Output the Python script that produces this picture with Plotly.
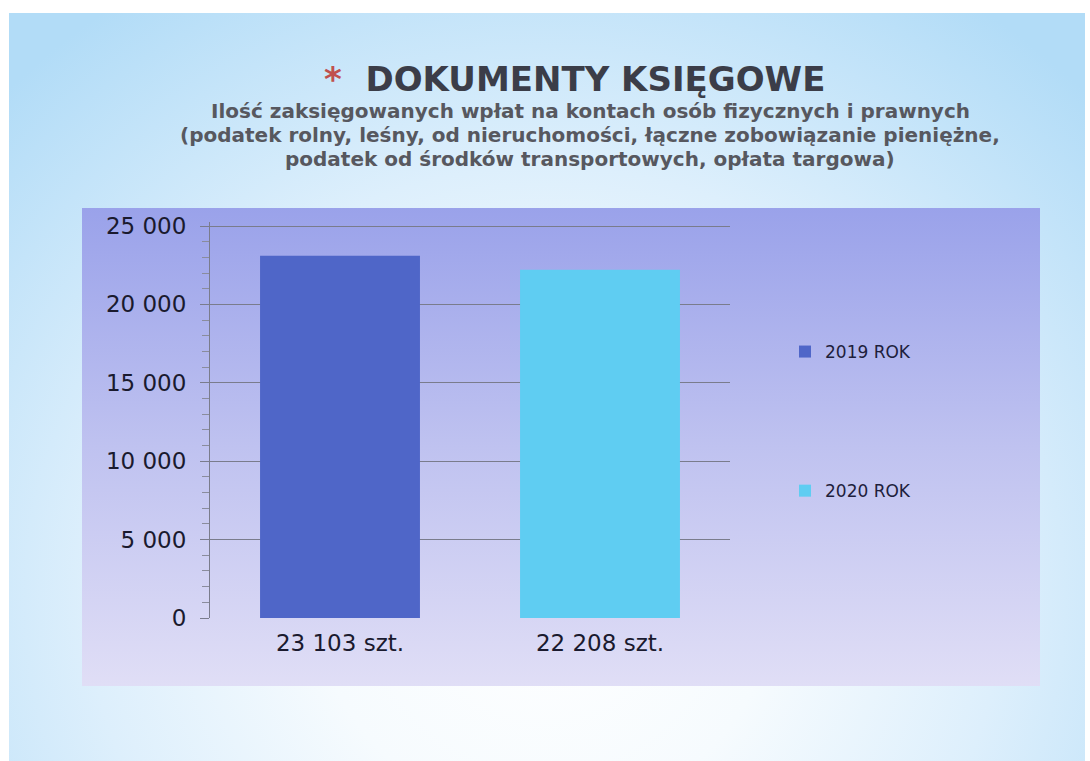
import base64
import plotly.graph_objects as go

# ---- data ----
categories = ["23 103 szt.", "22 208 szt."]
series_names = ["2019 ROK", "2020 ROK"]
values = [23103, 22208]
tick_values = [0, 5000, 10000, 15000, 20000, 25000]
tick_labels = ["0", "5 000", "10 000", "15 000", "20 000", "25 000"]
title_text = "DOKUMENTY KSIĘGOWE"
subtitle_lines = [
    "Ilość zaksięgowanych wpłat na kontach osób fizycznych i prawnych",
    "(podatek rolny, leśny, od nieruchomości, łączne zobowiązanie pieniężne,",
    "podatek od środków transportowych, opłata targowa)",
]
colors = ["#4f66c8", "#5fcdf2"]

W, H = 1090, 761
L, R, T, B = 210, 360, 222, 143
pw, ph = W - L - R, H - T - B
y_top = 25000 * ph / (618 - 226)  # keep 25 000 at the same pixel height as reference

svg = f"""<svg xmlns='http://www.w3.org/2000/svg' width='{W}' height='{H}' viewBox='0 0 {W} {H}' preserveAspectRatio='none'>
<defs>
<radialGradient id='g' cx='545' cy='600' r='760' gradientUnits='userSpaceOnUse' gradientTransform='translate(545 600) scale(1 0.95) translate(-545 -600)'>
<stop offset='0' stop-color='#ffffff'/>
<stop offset='0.3' stop-color='#f6fbfe'/>
<stop offset='0.6' stop-color='#ddeffc'/>
<stop offset='1' stop-color='#b2dcf7'/>
</radialGradient>
<linearGradient id='p' x1='0' y1='0' x2='0' y2='1'>
<stop offset='0' stop-color='#9aa2ea'/>
<stop offset='0.5' stop-color='#bfc2f0'/>
<stop offset='1' stop-color='#e0def6'/>
</linearGradient>
</defs>
<rect x='0' y='0' width='{W}' height='{H}' fill='#ffffff'/>
<rect x='9' y='13' width='{W-14}' height='{H-13}' fill='url(#g)'/>
<rect x='82' y='208' width='958' height='478' fill='url(#p)'/>
</svg>"""
src = "data:image/svg+xml;base64," + base64.b64encode(svg.encode("utf-8")).decode()

fig = go.Figure()
for name, cat, val, col in zip(series_names, categories, values, colors):
    fig.add_trace(go.Bar(
        x=[cat], y=[val], name=name, marker=dict(color=col, line=dict(width=0)),
        width=0.615, legendgroup=name,
    ))

font_main = "DejaVu Sans"


def py(pix):
    return (H - B - pix) / ph


fig.update_layout(
    width=W, height=H,
    margin=dict(l=L, r=R, t=T, b=B),
    paper_bgcolor="white",
    plot_bgcolor="rgba(0,0,0,0)",
    barmode="overlay",
    showlegend=True,
    legend=dict(
        x=(785 - L) / pw, y=py(334), xanchor="left", yanchor="top",
        bgcolor="rgba(0,0,0,0)", font=dict(family=font_main, size=17, color="#1e1e3c"),
        tracegroupgap=114, itemwidth=30, traceorder="grouped",
    ),
    images=[dict(
        source=src, xref="paper", yref="paper",
        x=-L / pw, y=(ph + T) / ph, sizex=W / pw, sizey=H / ph,
        xanchor="left", yanchor="top", sizing="stretch", layer="below",
    )],
    xaxis=dict(
        type="category", categoryorder="array", categoryarray=categories,
        showgrid=False, showline=False, ticks="", zeroline=False,
        tickfont=dict(family=font_main, size=23, color="#1a1a2e"),
        ticklabelstandoff=9,
    ),
    yaxis=dict(
        range=[0, y_top], tickvals=tick_values, ticktext=tick_labels,
        showgrid=True, gridcolor="#7a7c8c", gridwidth=1,
        showline=True, linecolor="#7a7c8c", linewidth=1,
        ticks="outside", ticklen=9, tickcolor="#7a7c8c",
        minor=dict(dtick=1000, ticks="outside", ticklen=7, tickcolor="#8a8c9c", showgrid=False),
        zeroline=False,
        tickfont=dict(family=font_main, size=23, color="#1a1a2e"),
        ticklabelstandoff=9,
    ),
)

ann = [
    dict(text="<span style='color:#c0504d'>*</span>  " + title_text,
         x=(574 - L) / pw, y=py(79), xref="paper", yref="paper",
         showarrow=False, xanchor="center", yanchor="middle",
         font=dict(family=font_main, size=34, color="#3b3d48", weight="bold")),
]
for i, line in enumerate(subtitle_lines):
    ann.append(dict(text=line, x=(590 - L) / pw, y=py(111 + 24 * i),
                    xref="paper", yref="paper", showarrow=False,
                    xanchor="center", yanchor="middle",
                    font=dict(family=font_main, size=20, color="#57585f", weight="bold")))
fig.update_layout(annotations=ann)

fig.write_html("out.html", post_script="document.body.style.margin='0';",
               config={"displayModeBar": False})
